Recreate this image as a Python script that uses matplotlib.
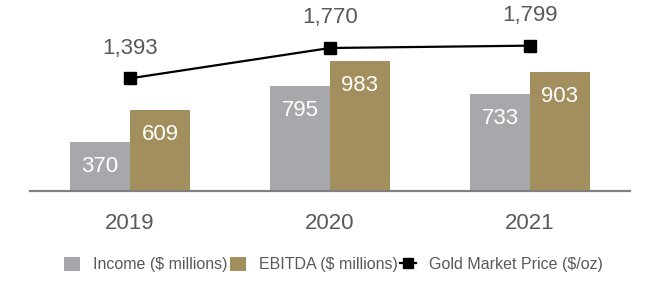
import matplotlib
matplotlib.use('Agg')
import matplotlib.pyplot as plt
import numpy as np
from matplotlib.lines import Line2D
from matplotlib.patches import Patch

# Шрифт, похожий на Arial
plt.rcParams['font.family'] = ['Liberation Sans', 'DejaVu Sans']

# ============ ДАННЫЕ ============
years = ['2019', '2020', '2021']
income = [370, 795, 733]
ebitda = [609, 983, 903]
gold_price = [1393, 1770, 1799]

labels = ['Income ($ millions)', 'EBITDA ($ millions)', 'Gold Market Price ($/oz)']

GRAY = '#a7a8ab'
GOLD = '#a38f5e'
TEXT = '#595959'

# ============ ГРАФИК ============
fig = plt.figure(figsize=(6.6, 3.0), dpi=100)
ax = fig.add_axes([0.0455, 0.365, 0.909, 0.526])

x = np.arange(len(years))
w = 0.3

bars1 = ax.bar(x - w / 2, income, width=w, color=GRAY)
bars2 = ax.bar(x + w / 2, ebitda, width=w, color=GOLD)

# подписи внутри столбцов
for bars, vals in [(bars1, income), (bars2, ebitda)]:
    for b, v in zip(bars, vals):
        ax.annotate(f'{v}', (b.get_x() + b.get_width() / 2, v),
                    xytext=(0, -17.6), textcoords='offset points',
                    ha='center', va='center', color='white', fontsize=16)

ax.set_xlim(-0.5, 2.5)
ax.set_ylim(0, 1200)
ax.set_yticks([])
ax.set_xticks(x)
ax.set_xticklabels(years, fontsize=16, color=TEXT)
ax.tick_params(axis='x', length=0, pad=16)
for s in ['top', 'left', 'right']:
    ax.spines[s].set_visible(False)
ax.spines['bottom'].set_color('#808080')
ax.spines['bottom'].set_linewidth(1.6)

# вторая ось для цены золота
ax2 = ax.twinx()
ax2.plot(x, gold_price, color='black', linewidth=1.6, marker='s', markersize=8.5)
for xi, v in zip(x, gold_price):
    ax2.annotate(f'{v:,}', (xi, v), xytext=(0, 21.6), textcoords='offset points',
                 ha='center', va='center', color=TEXT, fontsize=16,
                 annotation_clip=False)
ax2.set_ylim(0, 1960)
ax2.set_yticks([])
ax2.set_xlim(-0.5, 2.5)
for s in ['top', 'left', 'right', 'bottom']:
    ax2.spines[s].set_visible(False)

# легенда
handles = [Patch(facecolor=GRAY), Patch(facecolor=GOLD),
           Line2D([0], [0], color='black', linewidth=1.6, marker='s', markersize=7)]
fig.legend(handles, labels, loc='center', bbox_to_anchor=(0.505, 0.118), ncol=3,
           frameon=False, fontsize=11.5, labelcolor=TEXT,
           handlelength=1.0, handleheight=1.0, handletextpad=0.8,
           columnspacing=0.15)

fig.savefig('out.png', dpi=100)
